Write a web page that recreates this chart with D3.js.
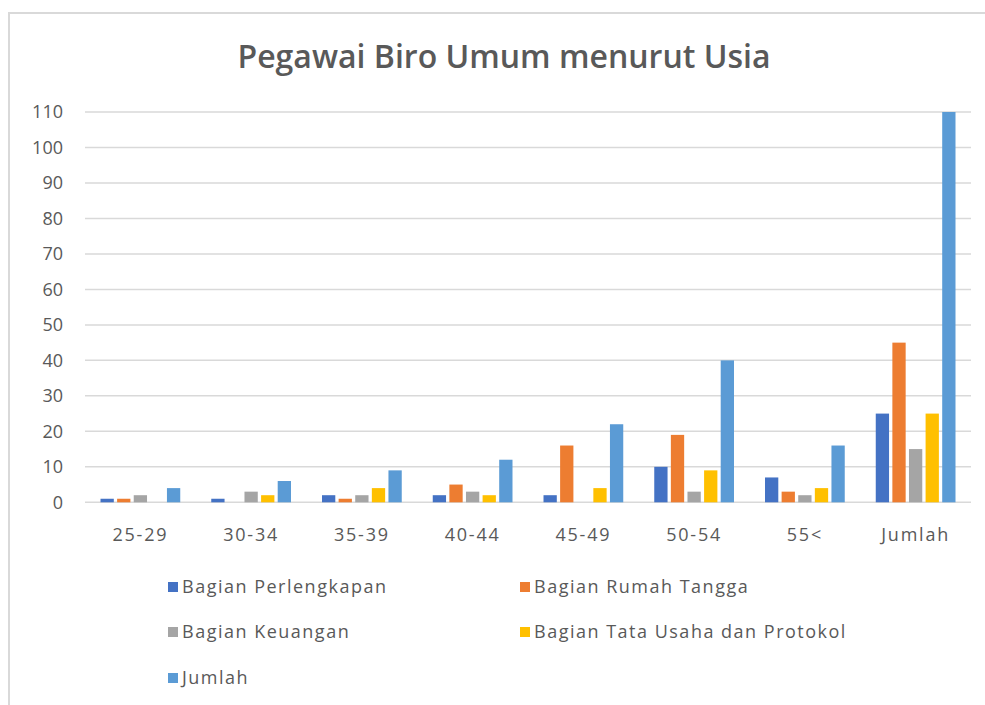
<!DOCTYPE html>
<html>
<head>
<meta charset="utf-8">
<script src="https://cdn.jsdelivr.net/npm/d3@7"></script>
<style>
  body { margin: 0; background: #fff; }
  svg { display: block; font-family: "Open Sans", "Liberation Sans", sans-serif; }
</style>
</head>
<body>
<div id="chart"></div>
<script>
// age groups on the x axis
const categories = ['25-29', '30-34', '35-39', '40-44', '45-49', '50-54', '55<', 'Jumlah'];
const seriesNames = ['Bagian Perlengkapan', 'Bagian Rumah Tangga', 'Bagian Keuangan', 'Bagian Tata Usaha  dan Protokol', 'Jumlah'];
const colors = ['#4472C4', '#ED7D31', '#A5A5A5', '#FFC000', '#5B9BD5'];

const perlengkapan = [1, 1, 2, 2, 2, 10, 7, 25];
const rumahTangga  = [1, 0, 1, 5, 16, 19, 3, 45];
const keuangan     = [2, 3, 2, 3, 0, 3, 2, 15];
const tataUsaha    = [0, 2, 4, 2, 4, 9, 4, 25];
const jumlah       = [4, 6, 9, 12, 22, 40, 16, 110];

const yTicks = [0, 10, 20, 30, 40, 50, 60, 70, 80, 90, 100, 110];

const seriesValues = [perlengkapan, rumahTangga, keuangan, tataUsaha, jumlah];

const width = 985, height = 705;
const margin = { left: 85, right: 14, top: 112, bottom: 203 };

const svg = d3.select('#chart').append('svg')
    .attr('width', width)
    .attr('height', height);

// chart frame
svg.append('rect')
    .attr('x', 9).attr('y', 13)
    .attr('width', width).attr('height', height)
    .attr('fill', 'none')
    .attr('stroke', '#d9d9d9')
    .attr('stroke-width', 2);

svg.append('text')
    .attr('x', 504).attr('y', 68)
    .attr('text-anchor', 'middle')
    .attr('font-size', 32)
    .attr('font-weight', 600)
    .attr('fill', '#595959')
    .text('Pegawai Biro Umum menurut Usia');

const x0 = d3.scaleBand()
    .domain(categories)
    .range([margin.left, width - margin.right])
    .paddingInner(0.28)
    .paddingOuter(0.14);

const x1 = d3.scaleBand()
    .domain(d3.range(seriesNames.length))
    .range([0, x0.bandwidth()])
    .paddingInner(0.2);

const y = d3.scaleLinear()
    .domain([0, 110])
    .range([height - margin.bottom + 0.3, margin.top]);

// gridlines
svg.append('g')
    .selectAll('line')
    .data(yTicks)
    .join('line')
    .attr('x1', margin.left)
    .attr('x2', width - margin.right)
    .attr('y1', d => y(d))
    .attr('y2', d => y(d))
    .attr('stroke', '#d9d9d9')
    .attr('stroke-width', 1.5);

// y labels
svg.append('g')
    .selectAll('text')
    .data(yTicks)
    .join('text')
    .attr('x', 63)
    .attr('y', d => y(d))
    .attr('dy', '0.35em')
    .attr('text-anchor', 'end')
    .attr('font-size', 18)
    .attr('fill', '#595959')
    .text(d => d);

// bars
const groups = svg.append('g')
    .selectAll('g')
    .data(categories)
    .join('g')
    .attr('transform', d => `translate(${x0(d)},0)`);

groups.selectAll('rect')
    .data((d, i) => seriesValues.map((vals, s) => ({ s, v: vals[i] })))
    .join('rect')
    .attr('x', d => x1(d.s))
    .attr('width', x1.bandwidth())
    .attr('y', d => y(d.v))
    .attr('height', d => y(0) - y(d.v))
    .attr('fill', d => colors[d.s]);

// x labels
svg.append('g')
    .selectAll('text')
    .data(categories)
    .join('text')
    .attr('x', d => x0(d) + x0.bandwidth() / 2)
    .attr('y', 541)
    .attr('text-anchor', 'middle')
    .attr('font-size', 18)
    .attr('letter-spacing', 1.8)
    .attr('fill', '#595959')
    .text(d => d);

// legend
const legendPos = [[168, 587], [520, 587], [168, 632], [520, 632], [168, 678]];
const legend = svg.append('g')
    .selectAll('g')
    .data(seriesNames)
    .join('g')
    .attr('transform', (d, i) => `translate(${legendPos[i][0]},${legendPos[i][1]})`);

legend.append('rect')
    .attr('x', 0).attr('y', -5)
    .attr('width', 10).attr('height', 10)
    .attr('fill', (d, i) => colors[i]);

legend.append('text')
    .attr('x', 14)
    .attr('dy', '0.35em')
    .attr('font-size', 18)
    .attr('letter-spacing', 1.5)
    .attr('fill', '#595959')
    .text(d => d);
</script>
</body>
</html>
